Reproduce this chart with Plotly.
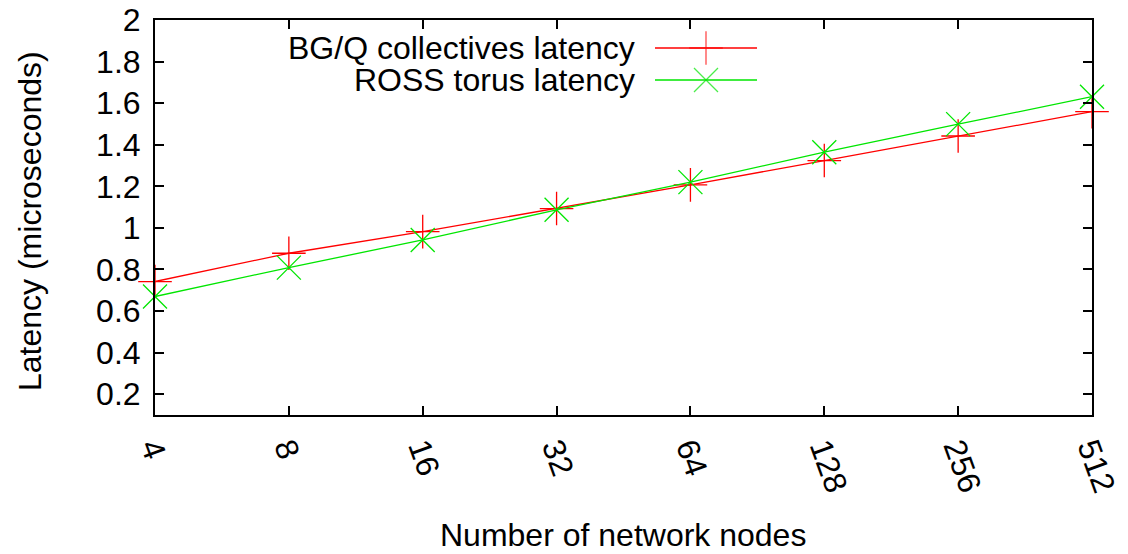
import plotly.graph_objects as go

nodes = ["4", "8", "16", "32", "64", "128", "256", "512"]
bgq_latency = [0.742, 0.878, 0.982, 1.093, 1.207, 1.324, 1.442, 1.559]
ross_latency = [0.670, 0.809, 0.942, 1.087, 1.220, 1.364, 1.499, 1.631]
y_ticks = [0.2, 0.4, 0.6, 0.8, 1.0, 1.2, 1.4, 1.6, 1.8, 2.0]
y_tick_labels = ["0.2", "0.4", "0.6", "0.8", "1", "1.2", "1.4", "1.6", "1.8", "2"]

series_names = ["BG/Q collectives latency", "ROSS torus latency"]
colors = ["#ff0000", "#00e600"]
symbols = ["cross-thin", "x-thin"]

FONT = "Liberation Sans, Arial, Helvetica, sans-serif"
FS = 32

# page body has an 8px default margin; figure is sized to fill the rest
OFF = 8
W, H = 1128 - OFF, 554 - OFF
L, T = 155 - OFF, 20 - OFF
R = W - (1092 - OFF)
B = H - (415 - OFF)
PW, PH = W - L - R, H - T - B

def px_x(p):
    return (p - OFF - L) / PW

def px_y(p):
    return (H - B - (p - OFF)) / PH

fig = go.Figure()
for vals, col, sym in zip([bgq_latency, ross_latency], colors, symbols):
    fig.add_trace(go.Scatter(
        x=nodes, y=vals, mode="lines+markers",
        line=dict(color=col, width=1.3),
        marker=dict(symbol=sym, size=24, line=dict(color=col, width=1.3), color=col),
        cliponaxis=False, showlegend=False,
    ))

# manual gnuplot-style key (text left of sample)
key_y = [px_y(48), px_y(80)]
x_text = px_x(636)
x0, xm, x1 = px_x(655), px_x(706), px_x(757)
for name, col, sym, ky in zip(series_names, colors, symbols, key_y):
    fig.add_annotation(x=x_text, y=ky, xref="paper", yref="paper", text=name,
                       showarrow=False, xanchor="right", yanchor="middle",
                       borderpad=0,
                       font=dict(family=FONT, size=FS, color="black"))
    fig.add_trace(go.Scatter(
        x=[x0, xm, x1], y=[ky, ky, ky], xaxis="x2", yaxis="y2",
        mode="lines+markers",
        line=dict(color=col, width=1.3),
        marker=dict(symbol=sym, size=[0, 24, 0], line=dict(color=col, width=1.3), color=col),
        cliponaxis=False, showlegend=False, hoverinfo="skip",
    ))

# axis titles
fig.add_annotation(x=px_x(623), y=px_y(535), xref="paper", yref="paper",
                   text="Number of network nodes", showarrow=False,
                   xanchor="center", yanchor="middle",
                   font=dict(family=FONT, size=FS, color="black"))
fig.add_annotation(x=px_x(30), y=px_y(221), xref="paper", yref="paper",
                   text="Latency (microseconds)", showarrow=False, textangle=-90,
                   xanchor="center", yanchor="middle",
                   font=dict(family=FONT, size=FS, color="black"))

fig.update_layout(
    width=W, height=H,
    margin=dict(l=L, r=R, t=T, b=B, autoexpand=False),
    paper_bgcolor="white", plot_bgcolor="white",
    font=dict(family=FONT, size=FS, color="black"),
    showlegend=False,
    xaxis=dict(
        type="category", range=[0, 7], automargin=False,
        showline=True, linecolor="black", linewidth=2, mirror="ticks",
        ticks="inside", ticklen=9, tickwidth=2, tickcolor="black",
        showgrid=False, zeroline=False, tickangle=70,
        tickfont=dict(family=FONT, size=FS),
    ),
    yaxis=dict(
        range=[0.1, 2], tickmode="array", tickvals=y_ticks, ticktext=y_tick_labels,
        automargin=False, ticklabeloverflow="allow",
        showline=True, linecolor="black", linewidth=2, mirror="ticks",
        ticks="inside", ticklen=9, tickwidth=2, tickcolor="black",
        showgrid=False, zeroline=False, ticklabelstandoff=6,
        tickfont=dict(family=FONT, size=FS),
    ),
    xaxis2=dict(overlaying="x", range=[0, 1], visible=False),
    yaxis2=dict(overlaying="y", range=[0, 1], visible=False),
)

fig.write_html("out.html")
